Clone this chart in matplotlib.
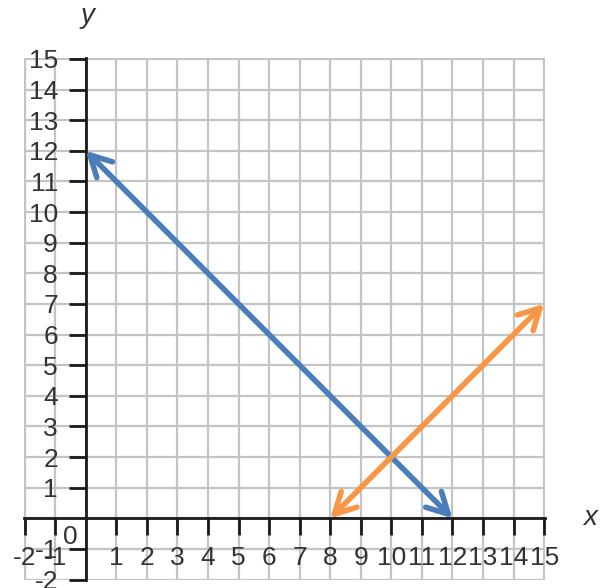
import matplotlib.pyplot as plt

# lines drawn on the grid: (x1, y1) -> (x2, y2)
blue_x = [0, 12]
blue_y = [12, 0]
orange_x = [8, 15]
orange_y = [0, 7]

x_ticks = [-2, -1, 1, 2, 3, 4, 5, 6, 7, 8, 9, 10, 11, 12, 13, 14, 15]
y_ticks = [-2, -1, 1, 2, 3, 4, 5, 6, 7, 8, 9, 10, 11, 12, 13, 14, 15]

plt.rcParams['font.family'] = ['Liberation Sans', 'DejaVu Sans']
plt.rcParams['axes.unicode_minus'] = False

fig = plt.figure(figsize=(6.02, 5.88), dpi=100)
ax = fig.add_axes([0.0394, 0.0128, 0.866, 0.8886])

ax.set_xlim(-2.03, 15.03)
ax.set_ylim(-2.03, 15.03)

# grid every unit
for v in range(-2, 16):
    ax.axvline(v, color='#c4c4c4', lw=1.6, zorder=0)
    ax.axhline(v, color='#c4c4c4', lw=1.6, zorder=0)

# axes through the origin
ax.spines['left'].set_position(('data', 0))
ax.spines['bottom'].set_position(('data', 0))
ax.spines['top'].set_visible(False)
ax.spines['right'].set_visible(False)
ax.spines['left'].set_linewidth(2)
ax.spines['bottom'].set_linewidth(2)
ax.spines['left'].set_color('#1a1a1a')
ax.spines['bottom'].set_color('#1a1a1a')

ax.set_xticks(x_ticks)
ax.set_yticks(y_ticks)
ax.tick_params(direction='out', length=12, width=2, colors='#1a1a1a',
               labelcolor='#333333', labelsize=19)
ax.tick_params(axis='x', pad=8)
ax.tick_params(axis='y', pad=8)
for lbl in ax.get_yticklabels():
    lbl.set_verticalalignment('center_baseline')
ax.text(-0.5, -0.6, '0', fontsize=19, color='#333333', ha='center', va='center')

# the two lines with arrow heads at both ends
style = '<->,head_length=0.75,head_width=0.4'
ax.annotate('', xy=(blue_x[0], blue_y[0]), xytext=(blue_x[1], blue_y[1]),
            arrowprops=dict(arrowstyle=style, mutation_scale=20,
                            color='#4a7ebb', lw=4, shrinkA=0, shrinkB=0,
                            capstyle='round', joinstyle='round'))
ax.annotate('', xy=(orange_x[0], orange_y[0]), xytext=(orange_x[1], orange_y[1]),
            arrowprops=dict(arrowstyle=style, mutation_scale=20,
                            color='#f79646', lw=4, shrinkA=0, shrinkB=0,
                            capstyle='round', joinstyle='round'))

fig.text(590 / 602, 1 - 518 / 588, 'x', fontsize=20, style='italic', color='#333333',
         ha='center', va='center')
fig.text(88 / 602, 1 - 16 / 588, 'y', fontsize=20, style='italic', color='#333333',
         ha='center', va='center')

fig.savefig('out.png', dpi=100)
